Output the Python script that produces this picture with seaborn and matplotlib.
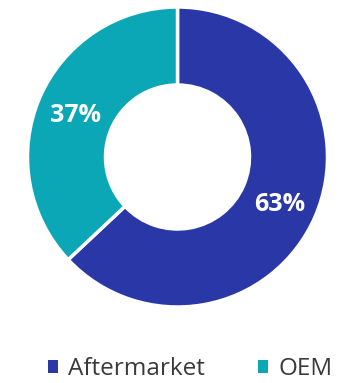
import matplotlib
matplotlib.use("Agg")
import matplotlib.pyplot as plt
import seaborn as sns
from matplotlib.patches import Patch

categories = ["Aftermarket", "OEM"]
values = [63, 37]
labels = ["63%", "37%"]
colors = ["#2a37a7", "#0ba7b7"]

sns.set_theme(style="white")
plt.rcParams['font.family'] = ['Open Sans', 'DejaVu Sans']

fig = plt.figure(figsize=(3.52, 3.83), dpi=100)
ax = fig.add_axes([27.5/352, 76/383, 300/352, 300/383])
wedges, texts = ax.pie(values, colors=colors, startangle=90, counterclock=False,
                       radius=1, wedgeprops=dict(width=0.52, edgecolor="white", linewidth=2.5),
                       labels=labels, labeldistance=0.74)
for t in texts:
    t.set_color("white")
    t.set_fontsize(18)
    t.set_fontweight("bold")
    t.set_ha("center")
    t.set_va("center_baseline")
ax.set_xlim(-1, 1)
ax.set_ylim(-1, 1)
ax.set_aspect("auto")
ax.axis("off")

handles = [Patch(facecolor=c, edgecolor="none") for c in colors]
fig.legend(handles, categories, loc="center", bbox_to_anchor=(190/352, 1 - 369/383),
           ncol=2, frameon=False, fontsize=17.5, handlelength=0.42, handleheight=0.42,
           handletextpad=0.4, columnspacing=2.2, labelcolor="#3a3a3a",
           borderpad=0.1, borderaxespad=0.1)

fig.savefig("out.png", dpi=100)
